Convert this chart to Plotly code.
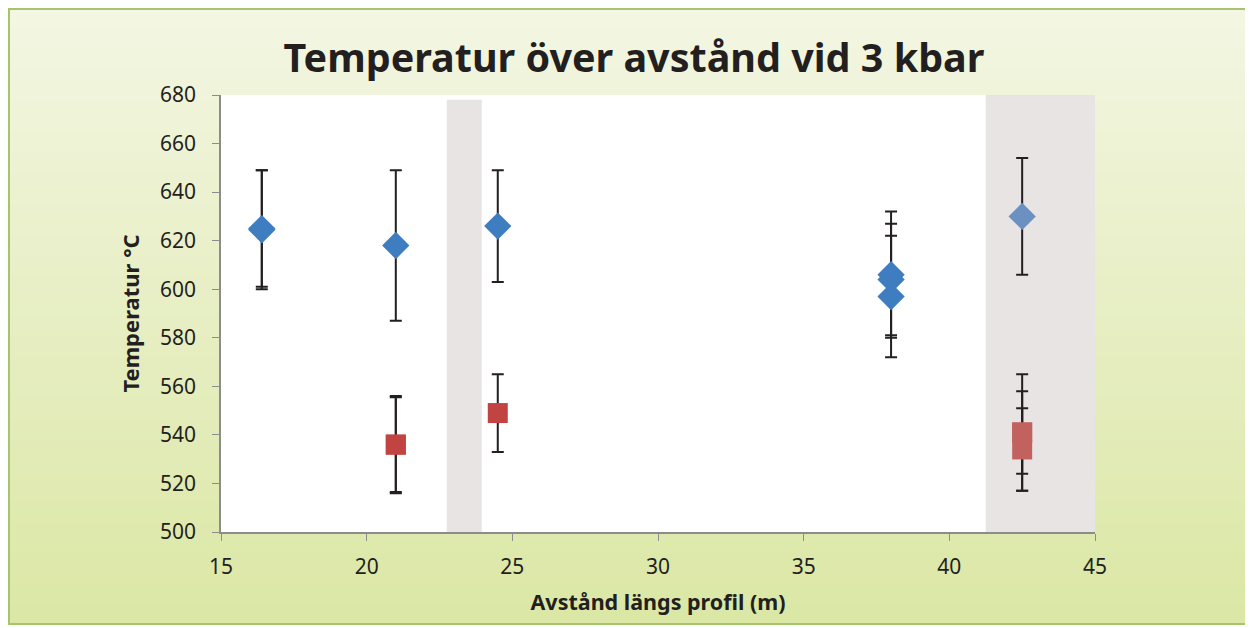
import plotly.graph_objects as go

# ---- data ----
blue_x = [16.4, 16.4, 21.0, 24.5, 38.0, 38.0, 38.0]
blue_y = [625, 624.5, 618, 626, 606, 604, 597]
blue_err = [24, 24.5, 31, 23, 26, 23, 25]

blue_band_x = [42.5]
blue_band_y = [630]
blue_band_err = [24]

red_x = [21.0, 21.0, 24.5]
red_y = [536, 536, 549]
red_err = [20, 19.5, 16]

red_band_x = [42.5, 42.5, 42.5]
red_band_y = [541, 541, 534]
red_band_err = [24, 17, 17]

band_ranges = [(22.75, 23.95, 678), (41.25, 45.0, 680)]

x_ticks = [15, 20, 25, 30, 35, 40, 45]
y_ticks = list(range(500, 681, 20))

# page has an 8px body margin; figure coordinates are page coordinates minus 8
OFF = 8
W, H = 1241, 617
L, R, T, B = 221 - OFF, 1095 - OFF, 95 - OFF, 532 - OFF


def px(xp):
    return (xp - L) / (R - L)


def py(yp):
    return (B - yp) / (B - T)


FONT = "Noto Sans"
fig = go.Figure()

err_style = dict(type="data", color="#231f20", thickness=2, width=6)

fig.add_trace(go.Scatter(x=blue_x, y=blue_y, mode="markers",
                         marker=dict(symbol="diamond", size=21, color="#3f7dc1"),
                         error_y=dict(array=blue_err, **err_style), showlegend=False))
fig.add_trace(go.Scatter(x=blue_band_x, y=blue_band_y, mode="markers",
                         marker=dict(symbol="diamond", size=21, color="#6b91c3"),
                         error_y=dict(array=blue_band_err, **err_style), showlegend=False))
fig.add_trace(go.Scatter(x=red_x, y=red_y, mode="markers",
                         marker=dict(symbol="square", size=20, color="#c24442"),
                         error_y=dict(array=red_err, **err_style), showlegend=False))
fig.add_trace(go.Scatter(x=red_band_x, y=red_band_y, mode="markers",
                         marker=dict(symbol="square", size=20, color="#c2625f"),
                         error_y=dict(array=red_band_err, **err_style), showlegend=False))

shapes = []
# gradient background bands
N = 60
top = (243, 246, 226)
bot = (219, 231, 165)
for i in range(N):
    f = i / (N - 1)
    c = tuple(round(top[k] + (bot[k] - top[k]) * f) for k in range(3))
    y0p = i * H / N
    y1p = (i + 1) * H / N + 1
    shapes.append(dict(type="rect", xref="paper", yref="paper", layer="below",
                       x0=px(0), x1=px(W), y0=py(y1p), y1=py(y0p),
                       fillcolor="rgb(%d,%d,%d)" % c, line=dict(width=0)))
# white plot area
shapes.append(dict(type="rect", xref="paper", yref="paper", layer="below",
                   x0=0, x1=1, y0=0, y1=1, fillcolor="white", line=dict(width=0)))
# gray bands
for x0, x1, ytop in band_ranges:
    shapes.append(dict(type="rect", xref="x", yref="y", layer="below",
                       x0=x0, x1=x1, y0=500, y1=ytop,
                       fillcolor="#e8e4e4", line=dict(width=0)))
# outer border
shapes.append(dict(type="rect", xref="paper", yref="paper", layer="above",
                   x0=px(1), x1=px(W - 1), y0=py(H - 1), y1=py(1),
                   fillcolor="rgba(0,0,0,0)", line=dict(color="#a6c46a", width=2)))

fig.update_layout(
    width=W, height=H,
    margin=dict(l=L, r=W - R, t=T, b=H - B),
    paper_bgcolor="#e9f0c8",
    plot_bgcolor="white",
    shapes=shapes,
    title=dict(text="<b>Temperatur över avstånd vid 3 kbar</b>",
               x=(634 - OFF) / W, xanchor="center", y=1 - (58 - OFF) / H, yanchor="middle",
               font=dict(family=FONT, size=39.5, color="#231f20")),
    xaxis=dict(range=[15, 45], tickvals=x_ticks, showgrid=False, zeroline=False,
               showline=True, linecolor="#8c8c8c", linewidth=1.5,
               ticks="outside", ticklen=7, tickcolor="#8c8c8c",
               ticklabelstandoff=8,
               tickfont=dict(family=FONT, size=21, color="#231f20"),
               title=dict(text="<b>Avstånd längs profil (m)</b>", standoff=16,
                          font=dict(family=FONT, size=21.5, color="#231f20"))),
    yaxis=dict(range=[500, 680], tickvals=y_ticks, showgrid=False, zeroline=False,
               showline=True, linecolor="#8c8c8c", linewidth=1.5,
               ticks="outside", ticklen=7, tickcolor="#8c8c8c",
               ticklabelstandoff=12,
               tickfont=dict(family=FONT, size=21, color="#231f20"),
               title=dict(text="<b>Temperatur °C</b>", standoff=14,
                          font=dict(family=FONT, size=22, color="#231f20"))),
)

fig.write_html("out.html")
